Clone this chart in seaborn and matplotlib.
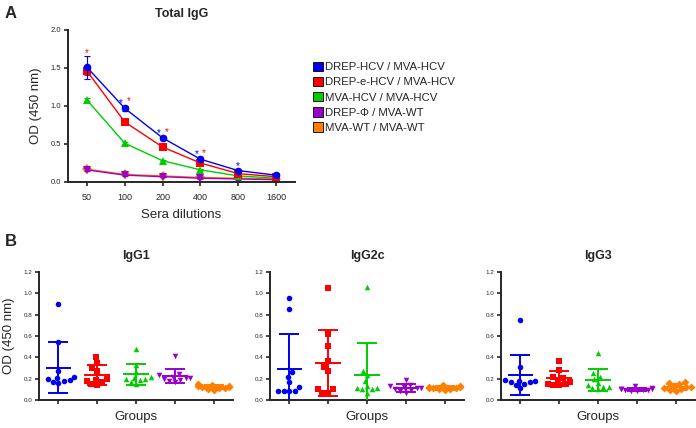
import numpy as np
import pandas as pd
import matplotlib
matplotlib.use("Agg")
import matplotlib.pyplot as plt
from matplotlib.patches import Patch
import seaborn as sns

# Panel A: total IgG titration (means and SD)
dilutions = ["50", "100", "200", "400", "800", "1600"]
series_names = ["DREP-HCV / MVA-HCV", "DREP-e-HCV / MVA-HCV", "MVA-HCV / MVA-HCV",
                "DREP-Φ / MVA-WT", "MVA-WT / MVA-WT"]
drep_hcv = [1.51, 0.97, 0.58, 0.30, 0.15, 0.09]
drep_e_hcv = [1.46, 0.79, 0.46, 0.25, 0.11, 0.07]
mva_hcv = [1.08, 0.51, 0.28, 0.16, 0.08, 0.05]
drep_phi = [0.16, 0.09, 0.07, 0.05, 0.04, 0.03]
mva_wt = [0.17, 0.10, 0.08, 0.06, 0.05, 0.04]
drep_hcv_sd = [0.15, 0.03, 0.03, 0.03, 0.02, 0.01]
drep_e_hcv_sd = [0.05, 0.02, 0.02, 0.02, 0.02, 0.01]
other_sd = [0.02, 0.01, 0.01, 0.01, 0.01, 0.01]

# significance stars: dilution index, height, colour index
star_idx = [0, 1, 1, 2, 2, 3, 3, 4]
star_y = [1.70, 1.04, 1.06, 0.64, 0.66, 0.37, 0.38, 0.21]
star_col = [1, 0, 1, 0, 1, 0, 1, 0]

# Panel B: individual mice, OD at 450 nm
groups = ["DREP-HCV", "DREP-e-HCV", "MVA-HCV", "DREP-Φ", "MVA-WT"]
igg1 = {
    "DREP-HCV": [0.90, 0.54, 0.27, 0.22, 0.20, 0.19, 0.18, 0.17, 0.16, 0.21],
    "DREP-e-HCV": [0.40, 0.35, 0.30, 0.27, 0.20, 0.18, 0.17, 0.15, 0.14, 0.19],
    "MVA-HCV": [0.48, 0.33, 0.26, 0.22, 0.20, 0.20, 0.19, 0.17, 0.15, 0.21],
    "DREP-Φ": [0.41, 0.24, 0.23, 0.22, 0.21, 0.20, 0.19, 0.18, 0.17, 0.21],
    "MVA-WT": [0.15, 0.14, 0.13, 0.13, 0.12, 0.12, 0.11, 0.10, 0.09, 0.11],
}
igg2c = {
    "DREP-HCV": [0.96, 0.85, 0.26, 0.22, 0.17, 0.12, 0.08, 0.08, 0.08, 0.08],
    "DREP-e-HCV": [1.05, 0.62, 0.51, 0.37, 0.31, 0.27, 0.10, 0.10, 0.07, 0.07],
    "MVA-HCV": [1.06, 0.27, 0.23, 0.18, 0.13, 0.11, 0.10, 0.11, 0.10, 0.07],
    "DREP-Φ": [0.19, 0.14, 0.13, 0.12, 0.11, 0.11, 0.10, 0.09, 0.08, 0.07],
    "MVA-WT": [0.14, 0.13, 0.12, 0.12, 0.11, 0.11, 0.11, 0.10, 0.10, 0.09],
}
igg3 = {
    "DREP-HCV": [0.75, 0.31, 0.19, 0.18, 0.18, 0.17, 0.17, 0.15, 0.14, 0.11],
    "DREP-e-HCV": [0.37, 0.28, 0.22, 0.21, 0.19, 0.17, 0.15, 0.15, 0.14, 0.14],
    "MVA-HCV": [0.44, 0.25, 0.22, 0.20, 0.16, 0.14, 0.12, 0.11, 0.10, 0.12],
    "DREP-Φ": [0.13, 0.11, 0.10, 0.10, 0.10, 0.09, 0.09, 0.09, 0.08, 0.08],
    "MVA-WT": [0.17, 0.16, 0.15, 0.13, 0.12, 0.12, 0.11, 0.10, 0.09, 0.08],
}

colors = ["#0000EE", "#FF0000", "#00CC00", "#9900CC", "#FF8000"]
markers = ["o", "s", "^", "v", "D"]

sns.set_style("ticks")
plt.rcParams["font.family"] = ["Liberation Sans", "DejaVu Sans"]
plt.rcParams["axes.linewidth"] = 1.4

fig = plt.figure(figsize=(6.96, 4.28), dpi=100)
W, H = 696.0, 428.0


def style_axis(ax):
    sns.despine(ax=ax)
    ax.tick_params(axis="both", width=1.2, length=3, labelsize=5.5, pad=2)


# ---- Panel A ----
axA = fig.add_axes([68 / W, 1 - 182 / H, 227 / W, 152 / H])
xpos = np.arange(len(dilutions))
means_a = [drep_hcv, drep_e_hcv, mva_hcv, drep_phi, mva_wt]
sds_a = [drep_hcv_sd, drep_e_hcv_sd, other_sd, other_sd, other_sd]
for i in [4, 3, 2, 1, 0]:
    df = pd.DataFrame({"x": xpos, "od": means_a[i]})
    sns.lineplot(data=df, x="x", y="od", ax=axA, color=colors[i], marker=markers[i],
                 markersize=5.5, markeredgewidth=0, linewidth=1.0)
    axA.errorbar(xpos, means_a[i], yerr=sds_a[i], fmt="none", ecolor=colors[i],
                 elinewidth=0.8, capsize=2.5, capthick=0.8)
for k in range(len(star_idx)):
    off = 0.0 if star_idx[k] in (0, 4) else (-0.1 if star_col[k] == 0 else 0.1)
    axA.text(star_idx[k] + off, star_y[k], "*", color=colors[star_col[k]],
             ha="center", va="center", fontsize=7)
axA.set_xlim(-0.5, 5.5)
axA.set_ylim(0, 2.0)
axA.set_xticks(xpos)
axA.set_xticklabels(dilutions)
axA.set_yticks([0, 0.5, 1.0, 1.5, 2.0])
axA.set_yticklabels(["0.0", "0.5", "1.0", "1.5", "2.0"])
style_axis(axA)
axA.tick_params(axis="x", labelsize=6.5, pad=5)
axA.set_xlabel("Sera dilutions", fontsize=9.5, labelpad=5)
axA.set_ylabel("OD (450 nm)", fontsize=9.5, labelpad=6)
axA.set_title("Total IgG", fontsize=9, fontweight="bold", pad=9)

handles = [Patch(facecolor=colors[i], edgecolor="black", linewidth=0.6, label=series_names[i])
           for i in range(5)]
fig.legend(handles=handles, loc="upper left", bbox_to_anchor=(308 / W, 1 - 57 / H),
           frameon=False, fontsize=8.2, handlelength=0.9, handleheight=0.9,
           handletextpad=0.2, labelspacing=0.4, borderaxespad=0)

fig.text(5 / W, 1 - 14 / H, "A", fontsize=12, fontweight="bold", va="center")
fig.text(5 / W, 1 - 242 / H, "B", fontsize=12, fontweight="bold", va="center")

# ---- Panel B ----
panels = [("IgG1", igg1, 39), ("IgG2c", igg2c, 270), ("IgG3", igg3, 501)]
for j, (title, data, left) in enumerate(panels):
    ax = fig.add_axes([left / W, 1 - 400 / H, 194 / W, 128 / H])
    long = pd.DataFrame([(g, v) for g in groups for v in data[g]], columns=["group", "od"])
    for i, g in enumerate(groups):
        sub = long[long["group"] == g]
        sns.swarmplot(data=sub, x="group", y="od", order=groups, color=colors[i],
                      marker=markers[i], size=4.0, linewidth=0, ax=ax)
        m = np.mean(data[g])
        sd = np.std(data[g], ddof=1)
        ax.hlines(m, i - 0.33, i + 0.33, color=colors[i], linewidth=1.4, zorder=4)
        ax.errorbar([i], [m], yerr=[sd], fmt="none", ecolor=colors[i], elinewidth=1.4,
                    capsize=7, capthick=1.4, zorder=4)
    ax.set_xlim(-0.5, 4.5)
    ax.set_ylim(0, 1.2)
    ax.set_yticks(np.arange(0, 1.21, 0.2))
    ax.set_yticklabels([f"{v:.1f}" for v in np.arange(0, 1.21, 0.2)])
    ax.set_xticks(range(len(groups)))
    ax.set_xticklabels([])
    style_axis(ax)
    ax.tick_params(axis="y", labelsize=4.5)
    ax.set_xlabel("Groups", fontsize=9.5, labelpad=3)
    ax.set_ylabel("OD (450 nm)" if j == 0 else "", fontsize=9.5, labelpad=6)
    ax.set_title(title, fontsize=9, fontweight="bold", pad=9)

fig.savefig("out.png", dpi=100)
